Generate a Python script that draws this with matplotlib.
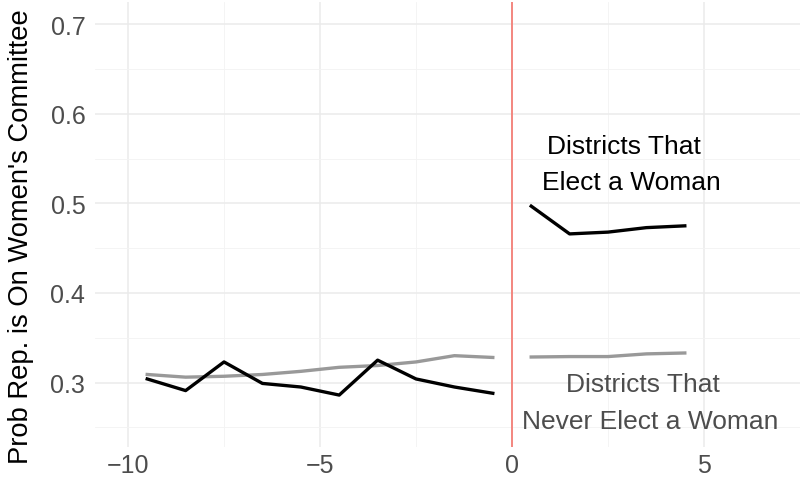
import matplotlib
matplotlib.use("Agg")
import matplotlib.pyplot as plt
from matplotlib.ticker import MultipleLocator

plt.rcParams['font.family'] = ['Liberation Sans', 'DejaVu Sans']

pre_x = [-9.5, -8.5, -7.5, -6.5, -5.5, -4.5, -3.5, -2.5, -1.5, -0.5]
pre_elect = [0.304, 0.291, 0.323, 0.299, 0.295, 0.286, 0.325, 0.304, 0.295, 0.288]
pre_never = [0.309, 0.306, 0.307, 0.309, 0.3125, 0.317, 0.319, 0.323, 0.330, 0.328]
post_x = [0.5, 1.5, 2.5, 3.5, 4.5]
post_elect = [0.497, 0.466, 0.468, 0.473, 0.475]
post_never = [0.3285, 0.329, 0.329, 0.332, 0.333]

x_ticks = [-10, -5, 0, 5]
y_ticks = [0.3, 0.4, 0.5, 0.6, 0.7]
y_label = "Prob Rep. is On Women's Committee"
label_elect = "Districts That  \nElect a Woman"
label_never = "Districts That  \nNever Elect a Woman"

fig = plt.figure(figsize=(8.04, 4.81), dpi=100)
ax = fig.add_axes([95/804, 1-448/481, (800-95)/804, (448-3)/481])

ax.set_xlim(-10.86, 7.5)
ax.set_ylim(0.228, 0.725)

ax.xaxis.set_minor_locator(MultipleLocator(2.5))
ax.yaxis.set_minor_locator(MultipleLocator(0.05))
ax.set_xticks(x_ticks)
ax.set_xticklabels(["\u221210", "\u22125", "0", "5"])
ax.set_yticks(y_ticks)
ax.set_yticklabels([f"{v:.1f}" for v in y_ticks])

ax.grid(which='major', color='#ebebeb', linewidth=1.1, zorder=0)
ax.grid(which='minor', color='#f3f3f3', linewidth=0.6, zorder=0)
for s in ax.spines.values():
    s.set_visible(False)
ax.tick_params(which='both', length=0)
ax.tick_params(axis='both', labelsize=18, labelcolor='#4d4d4d')
ax.tick_params(axis='y', pad=7)
ax.tick_params(axis='x', pad=4)

ax.axvline(0, color='#f4877f', linewidth=1.4, zorder=2)

ax.plot(pre_x, pre_never, color='#999999', linewidth=2.4, zorder=3)
ax.plot(post_x, post_never, color='#999999', linewidth=2.4, zorder=3)
ax.plot(pre_x, pre_elect, color='black', linewidth=2.4, zorder=4)
ax.plot(post_x, post_elect, color='black', linewidth=2.4, zorder=4)

ax.text(3.1, 0.544, label_elect, ha='center', va='center', fontsize=19,
        color='black', linespacing=1.66, multialignment='center')
ax.text(3.6, 0.278, label_never, ha='center', va='center', fontsize=19,
        color='#4d4d4d', linespacing=1.66, multialignment='center')

ax.set_ylabel(y_label, fontsize=19.7, color='black')
ax.yaxis.set_label_coords(-0.086, 0.474)

fig.savefig("out.png", dpi=100)
